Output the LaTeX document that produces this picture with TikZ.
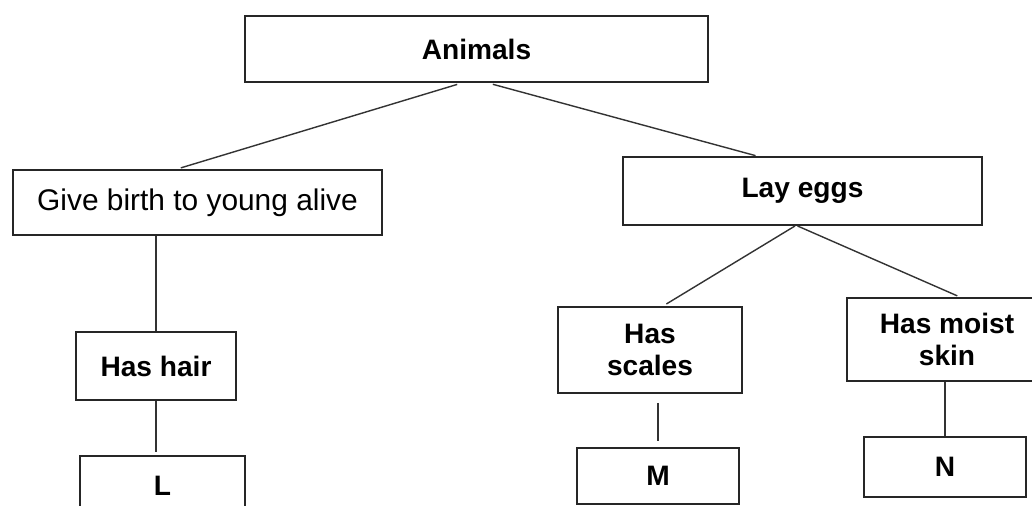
\documentclass[tikz,border=0pt]{standalone}
\usepackage{fontspec}
\setmainfont{Liberation Sans}
\usepackage{tikz}
\usetikzlibrary{calc}
\usetikzlibrary{positioning}
\tikzstyle{catnode} = [draw=black!85, rectangle, line width=1.1pt, inner sep=0pt, align=center, font=\fontsize{16}{18}\selectfont\bfseries]
\tikzstyle{plainnode} = [catnode, font=\fontsize{17}{19}\selectfont]
\tikzstyle{link} = [draw=black!80, line width=0.8pt]

\begin{document}
\begin{tikzpicture}
\node[catnode, minimum width=9.26cm, minimum height=1.32cm] (animals) {Animals};
\useasboundingbox ($(animals)+(-9.53,0.98)$) rectangle ($(animals)+(11.11,-9.12)$);
\node[plainnode, minimum width=7.38cm, minimum height=1.3cm] (birth) at ($(animals)+(-5.58,-3.07)$) {Give birth to young alive};
\node[catnode, minimum width=7.18cm, minimum height=1.36cm] (eggs) at ($(animals)+(6.52,-2.84)$) {Lay eggs};

\node[catnode, minimum width=3.2cm, minimum height=1.36cm] (hair) at ($(birth)+(-0.83,-3.27)$) {Has hair};
\node[catnode, minimum width=3.3cm, minimum height=1.2cm] (L) at ($(hair)+(0.13,-2.4)$) {L};

\node[catnode, minimum width=3.68cm, minimum height=1.72cm] (scales) at ($(eggs)+(-3.05,-3.18)$) {Has\\scales};
\node[catnode, minimum width=4cm, minimum height=1.66cm] (moist) at ($(eggs)+(2.89,-2.97)$) {Has moist\\skin};
\node[catnode, minimum width=3.24cm, minimum height=1.12cm] (M) at ($(scales)+(0.16,-2.52)$) {M};
\node[catnode, minimum width=3.24cm, minimum height=1.2cm] (N) at ($(moist)+(-0.04,-2.55)$) {N};

\draw[link, shorten <=0.1cm, shorten >=0.08cm] ([xshift=-0.29cm]animals.south) -- ([xshift=-0.41cm]birth.north);
\draw[link, shorten <=0.1cm, shorten >=0.03cm] ([xshift=0.23cm]animals.south) -- ([xshift=-0.91cm]eggs.north);
\draw[link] (birth.south -| hair.north) -- (hair.north);
\draw[link, shorten >=0.06cm] (hair.south) -- (hair.south |- L.north);
\draw[link, shorten >=0.08cm] ([xshift=-0.15cm]eggs.south) -- ([xshift=0.26cm]scales.north);
\draw[link, shorten >=0.06cm] ([xshift=-0.1cm]eggs.south) -- ([xshift=0.26cm]moist.north);
\draw[link, shorten <=0.18cm, shorten >=0.12cm] (M.north |- scales.south) -- (M.north);
\draw[link] (N.north |- moist.south) -- (N.north);
\end{tikzpicture}
\end{document}
